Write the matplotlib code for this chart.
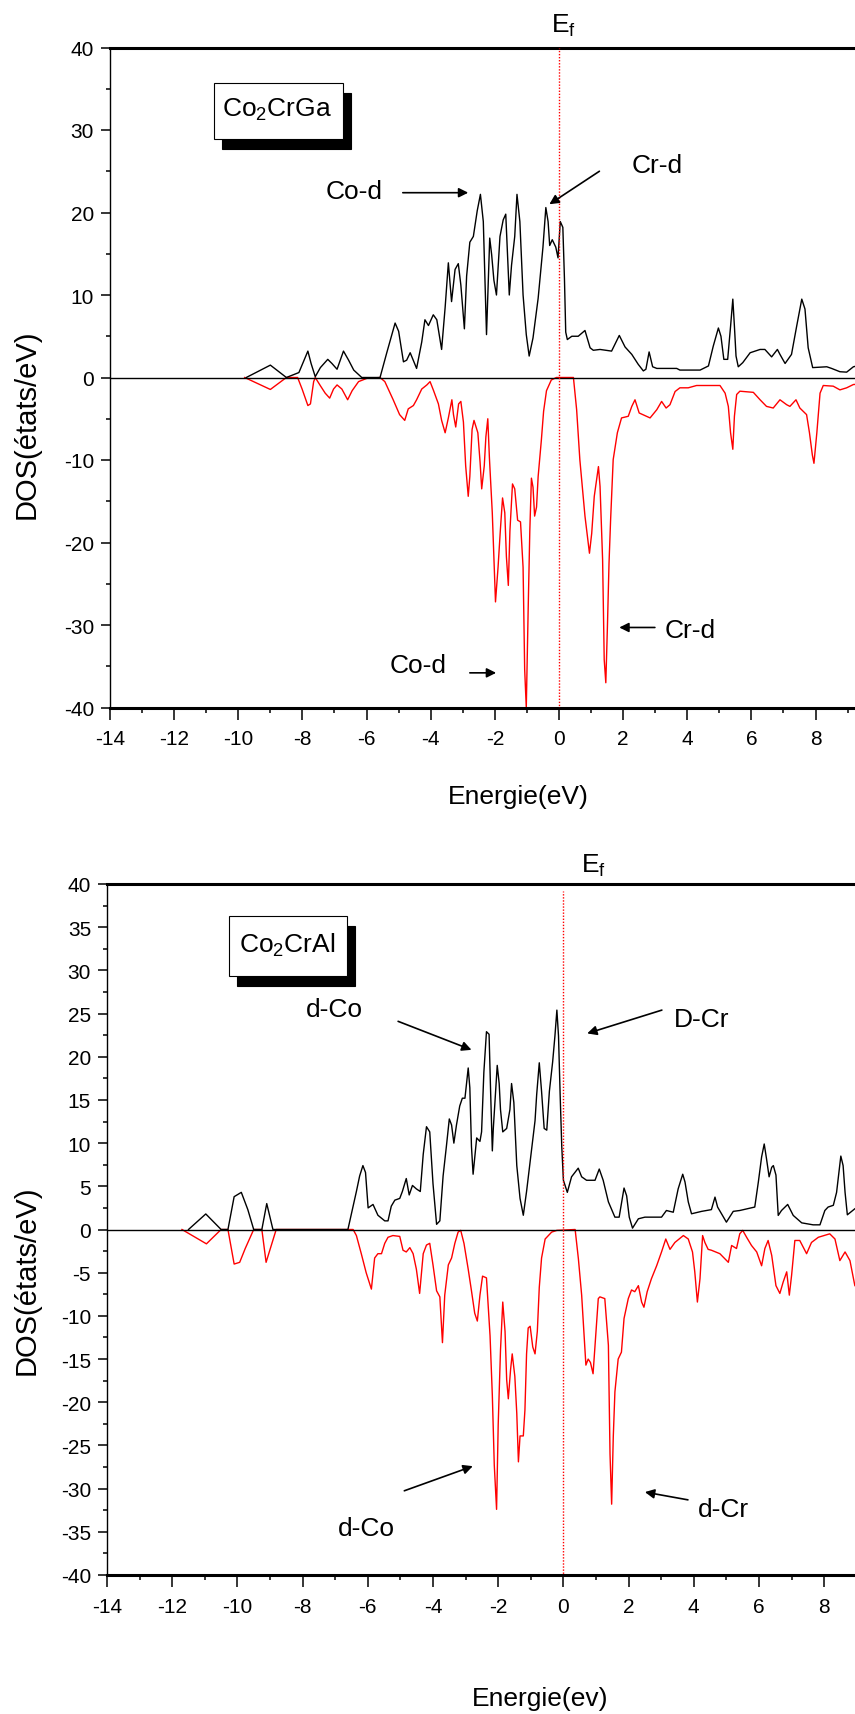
import matplotlib
matplotlib.use("Agg")
import matplotlib.pyplot as plt
import matplotlib.transforms as mtransforms
from matplotlib.patches import Rectangle
from matplotlib.ticker import MultipleLocator

plt.rcParams['font.family'] = ['Liberation Sans', 'DejaVu Sans']
plt.rcParams['mathtext.fontset'] = 'custom'
plt.rcParams['mathtext.rm'] = 'Liberation Sans'
plt.rcParams['mathtext.it'] = 'Liberation Sans:italic'
plt.rcParams['axes.unicode_minus'] = False

# ---- Co2CrGa, spin up (black) ----
ga_up_e = [-9.75, -9.0, -8.5, -8.11, -7.83, -7.73, -7.6, -7.44, -7.21, -7.08,
           -6.92, -6.72, -6.56, -6.4, -6.15, -5.58, -5.37, -5.11, -5.0, -4.85,
           -4.75, -4.64, -4.44, -4.28, -4.18, -4.07, -3.92, -3.81, -3.66, -3.55,
           -3.45, -3.35, -3.24, -3.14, -3.06, -2.95, -2.88, -2.78, -2.67, -2.55,
           -2.45, -2.36, -2.26, -2.16, -2.10, -2.03, -1.95, -1.84, -1.74, -1.66,
           -1.55, -1.48, -1.38, -1.31, -1.22, -1.12, -1.02, -0.93, -0.81, -0.65,
           -0.5, -0.41, -0.34, -0.29, -0.21, -0.10, -0.03, 0.04, 0.12, 0.17,
           0.21, 0.26, 0.4, 0.6, 0.81, 0.97, 1.07, 1.28, 1.64, 1.88,
           2.06, 2.27, 2.47, 2.63, 2.71, 2.81, 2.92, 3.05, 3.67, 3.77,
           4.4, 4.66, 4.81, 4.97, 5.05, 5.14, 5.26, 5.35, 5.42, 5.47,
           5.52, 5.59, 5.73, 5.96, 6.27, 6.42, 6.63, 6.81, 6.89, 7.05,
           7.25, 7.41, 7.57, 7.67, 7.77, 7.91, 8.35, 8.5, 8.76, 8.97,
           9.18, 9.4]
ga_up_dos = [0, 1.5, 0, 0.6, 3.2, 1.7, 0.1, 1.2, 2.2, 1.7,
             1.0, 3.2, 2.1, 0.9, 0, 0, 3.0, 6.6, 5.6, 1.9,
             2.1, 3.0, 1.1, 4.3, 7.0, 6.3, 7.6, 7.0, 3.4, 8.5,
             13.9, 9.2, 13.1, 13.8, 11.2, 5.9, 12.3, 16.4, 17.1, 20.2,
             22.2, 18.9, 5.2, 16.9, 14.9, 11.8, 10.0, 17.1, 19.1, 19.8,
             10.0, 13.6, 17.1, 22.2, 18.9, 10.0, 5.2, 2.6, 4.8, 9.6,
             15.8, 20.6, 18.9, 16.0, 16.7, 15.8, 14.5, 18.9, 18.2, 12.0,
             5.5, 4.6, 5.0, 5.0, 5.7, 3.6, 3.3, 3.4, 3.2, 5.1,
             3.7, 2.8, 1.6, 0.8, 1.0, 3.1, 1.3, 1.1, 1.1, 0.9,
             0.9, 1.4, 3.8, 6.0, 5.0, 2.2, 2.2, 6.2, 9.5, 6.2,
             2.6, 1.3, 1.8, 3.0, 3.4, 3.4, 2.5, 3.4, 2.8, 1.7,
             2.8, 6.2, 9.5, 8.3, 3.6, 1.2, 1.3, 1.1, 0.7, 0.65,
             1.3, 1.5]

# ---- Co2CrGa, spin down (red) ----
ga_dn_e = [-9.8, -9.0, -8.5, -8.15, -8.01, -7.83, -7.75, -7.65, -7.6, -7.44,
           -7.29, -7.15, -7.03, -6.92, -6.77, -6.59, -6.45, -6.25, -5.99, -5.58,
           -5.43, -5.17, -4.97, -4.81, -4.7, -4.54, -4.44, -4.28, -4.12, -4.02,
           -3.91, -3.76, -3.66, -3.55, -3.45, -3.34, -3.29, -3.22, -3.13, -3.06,
           -2.98, -2.91, -2.83, -2.78, -2.71, -2.65, -2.53, -2.46, -2.41, -2.33,
           -2.28, -2.22, -2.17, -2.08, -2.03, -1.98, -1.9, -1.83, -1.76, -1.69,
           -1.64, -1.58, -1.53, -1.45, -1.38, -1.29, -1.2, -1.12, -1.07, -1.02,
           -0.96, -0.91, -0.86, -0.81, -0.76, -0.7, -0.65, -0.55, -0.48, -0.39,
           -0.24, -0.08, 0.33, 0.45, 0.55, 0.65, 0.81, 0.95, 1.02, 1.1,
           1.23, 1.28, 1.36, 1.41, 1.46, 1.51, 1.56, 1.61, 1.69, 1.82,
           1.95, 2.16, 2.27, 2.37, 2.5, 2.84, 3.05, 3.2, 3.34, 3.46,
           3.62, 3.77, 4.03, 4.29, 5.02, 5.18, 5.28, 5.35, 5.42, 5.47,
           5.54, 5.64, 6.06, 6.27, 6.47, 6.68, 6.89, 7.1, 7.2, 7.39,
           7.51, 7.72, 7.81, 7.9, 7.95, 8.04, 8.14, 8.24, 8.55, 8.76,
           8.97, 9.18, 9.4]
ga_dn_dos = [0, -1.45, 0, 0, -1.4, -3.4, -3.2, -0.5, 0, -1.0,
             -1.9, -2.5, -1.4, -0.9, -1.4, -2.7, -1.6, -0.5, -0.1, 0,
             -0.5, -2.7, -4.5, -5.2, -3.8, -3.4, -2.7, -1.4, -0.9, -0.5,
             -1.6, -3.2, -5.2, -6.7, -4.9, -2.7, -4.5, -6.0, -3.2, -2.9,
             -5.4, -10.7, -14.4, -12.0, -6.3, -5.2, -6.7, -10.3, -13.5, -10.7,
             -7.2, -5.0, -9.7, -16.4, -21.7, -27.2, -23.0, -18.6, -14.6, -16.4,
             -21.7, -25.2, -18.6, -12.9, -13.5, -17.3, -17.5, -23.0, -35.4, -40,
             -27.9, -18.6, -12.2, -13.3, -16.8, -15.7, -12.0, -7.6, -4.1, -1.6,
             -0.3, 0, 0, 0, -3.9, -9.95, -16.8, -21.3, -18.9, -14.4,
             -10.8, -13.2, -22.1, -34.2, -37.0, -30.2, -22.5, -17.2, -9.95, -6.7,
             -4.9, -4.7, -3.5, -2.7, -4.3, -4.9, -3.9, -2.9, -3.7, -3.3,
             -1.7, -1.25, -1.25, -0.97, -0.97, -1.9, -3.5, -6.7, -8.7, -4.7,
             -2.06, -1.66, -1.8, -2.7, -3.5, -3.7, -2.7, -3.3, -3.5, -2.7,
             -3.7, -4.5, -6.7, -9.4, -10.4, -6.7, -1.9, -0.97, -1.05, -1.5,
             -1.25, -0.85, -0.8]

# ---- Co2CrAl, spin up (black) ----
al_up_e = [-11.5, -10.97, -10.5, -10.29, -10.1, -9.88, -9.68, -9.5, -9.25, -9.1,
           -8.91, -6.61, -6.45, -6.35, -6.25, -6.15, -6.07, -5.99, -5.84, -5.69,
           -5.48, -5.38, -5.28, -5.17, -5.02, -4.94, -4.82, -4.73, -4.63, -4.51,
           -4.39, -4.3, -4.2, -4.1, -4.0, -3.89, -3.79, -3.69, -3.59, -3.5,
           -3.43, -3.36, -3.28, -3.18, -3.1, -3.02, -2.92, -2.87, -2.82, -2.77,
           -2.66, -2.56, -2.51, -2.44, -2.36, -2.28, -2.23, -2.18, -2.15, -2.1,
           -2.03, -1.97, -1.93, -1.86, -1.74, -1.64, -1.59, -1.52, -1.43, -1.33,
           -1.23, -1.13, -1.02, -0.87, -0.82, -0.74, -0.67, -0.59, -0.51, -0.43,
           -0.33, -0.26, -0.2, -0.15, -0.1, -0.05, 0.0, 0.12, 0.25, 0.455,
           0.56, 0.71, 0.97, 1.1, 1.22, 1.38, 1.58, 1.71, 1.86, 1.94,
           2.02, 2.12, 2.3, 2.5, 3.01, 3.16, 3.37, 3.52, 3.66, 3.73,
           3.83, 3.93, 4.24, 4.54, 4.65, 4.73, 4.85, 5.0, 5.21, 5.41,
           5.87, 5.98, 6.08, 6.16, 6.23, 6.31, 6.39, 6.44, 6.52, 6.59,
           6.69, 6.88, 7.05, 7.31, 7.66, 7.87, 8.02, 8.12, 8.28, 8.38,
           8.51, 8.58, 8.64, 8.71, 8.94, 9.2]
al_up_dos = [0, 1.8, 0, 0, 3.8, 4.3, 2.3, 0, 0, 3.0,
             0, 0, 2.7, 4.4, 6.2, 7.4, 6.6, 2.5, 2.9, 1.65,
             1.0, 1.0, 2.7, 3.4, 3.6, 4.4, 5.9, 4.0, 5.1, 4.7,
             4.4, 8.7, 11.9, 11.3, 5.3, 0.6, 1.0, 6.2, 9.6, 12.8,
             12.1, 10.0, 12.1, 14.3, 15.2, 15.2, 18.7, 16.4, 9.6, 6.4,
             10.6, 10.2, 11.3, 18.2, 22.9, 22.6, 15.6, 9.1, 11.7, 14.7,
             19.0, 16.9, 13.9, 11.3, 11.7, 13.9, 16.9, 14.7, 7.4, 3.6,
             1.65, 4.4, 7.9, 12.6, 15.6, 19.3, 16.0, 11.7, 11.5, 16.0,
             19.4, 22.4, 25.4, 22.4, 15.6, 9.6, 5.7, 4.3, 6.1, 7.1,
             6.1, 5.7, 5.7, 7.0, 5.7, 3.2, 1.43, 1.43, 4.8, 3.9,
             1.43, 0.16, 1.24, 1.43, 1.43, 2.2, 2.0, 4.7, 6.4, 5.5,
             3.2, 1.82, 2.1, 2.3, 3.75, 2.6, 1.82, 0.85, 2.1, 2.2,
             2.6, 5.5, 8.4, 9.9, 8.2, 6.1, 7.2, 7.4, 6.3, 1.63,
             2.2, 2.9, 1.63, 0.77, 0.54, 0.54, 2.2, 2.6, 2.8, 4.3,
             8.5, 7.4, 4.3, 1.7, 2.4, 3.0]

# ---- Co2CrAl, spin down (red) ----
al_dn_e = [-11.7, -10.95, -10.5, -10.29, -10.1, -9.93, -9.76, -9.5, -9.25, -9.12,
           -8.81, -6.45, -6.35, -6.2, -6.05, -5.89, -5.79, -5.69, -5.58, -5.48,
           -5.38, -5.23, -5.02, -4.92, -4.82, -4.71, -4.61, -4.51, -4.41, -4.3,
           -4.2, -4.1, -4.0, -3.89, -3.79, -3.71, -3.64, -3.53, -3.43, -3.33,
           -3.23, -3.15, -3.05, -2.92, -2.82, -2.72, -2.64, -2.56, -2.48, -2.36,
           -2.25, -2.18, -2.12, -2.05, -2.0, -1.93, -1.86, -1.79, -1.74, -1.69,
           -1.62, -1.57, -1.49, -1.43, -1.38, -1.33, -1.23, -1.18, -1.13, -1.08,
           -1.02, -0.94, -0.87, -0.8, -0.74, -0.67, -0.56, -0.36, -0.2, 0.36,
           0.46, 0.56, 0.63, 0.69, 0.76, 0.83, 0.91, 1.0, 1.07, 1.12,
           1.27, 1.38, 1.43, 1.48, 1.53, 1.58, 1.68, 1.78, 1.86, 1.99,
           2.09, 2.19, 2.3, 2.4, 2.47, 2.57, 2.7, 2.86, 3.01, 3.14,
           3.27, 3.42, 3.68, 3.83, 3.96, 4.03, 4.11, 4.19, 4.27, 4.34,
           4.44, 4.54, 4.8, 5.06, 5.16, 5.31, 5.41, 5.5, 5.62, 5.77,
           5.93, 6.08, 6.18, 6.28, 6.39, 6.52, 6.64, 6.74, 6.85, 6.93,
           7.0, 7.1, 7.25, 7.46, 7.61, 7.82, 8.17, 8.33, 8.48, 8.64,
           8.79, 8.94, 9.1]
al_dn_dos = [0, -1.66, 0, 0, -4.0, -3.8, -2.2, 0, 0, -3.8,
             0, 0, -0.7, -2.8, -5.0, -6.9, -3.3, -2.8, -2.8, -1.6,
             -0.9, -0.7, -0.8, -2.4, -2.6, -2.1, -2.8, -4.6, -7.4, -2.8,
             -1.8, -1.6, -4.1, -7.1, -7.8, -13.1, -7.6, -4.1, -3.3, -1.6,
             -0.3, -0.1, -1.6, -4.6, -7.1, -9.7, -10.6, -7.6, -5.4, -5.6,
             -12.3, -19.2, -27.3, -32.4, -22.6, -14.0, -8.4, -11.8, -17.4, -19.6,
             -16.2, -14.4, -17.0, -21.3, -26.9, -23.9, -23.9, -20.9, -14.4, -11.4,
             -11.2, -13.6, -14.4, -11.8, -6.7, -3.3, -1.1, -0.3, -0.1, 0,
             -3.4, -7.6, -11.9, -15.7, -15.0, -15.4, -16.7, -11.9, -8.0, -7.8,
             -8.0, -13.4, -26.0, -31.8, -24.0, -18.8, -15.0, -14.2, -10.3, -8.0,
             -7.0, -7.2, -6.5, -8.4, -9.0, -7.2, -5.7, -4.2, -2.6, -1.1,
             -2.3, -1.5, -0.7, -1.1, -2.6, -4.9, -8.4, -5.7, -0.7, -1.5,
             -2.3, -2.4, -2.8, -3.8, -1.85, -2.2, -0.5, -0.1, -0.9, -1.85,
             -2.6, -4.2, -2.2, -1.27, -3.0, -6.5, -7.4, -6.1, -4.9, -7.6,
             -5.3, -1.27, -1.27, -2.8, -1.5, -0.9, -0.5, -1.1, -3.6, -2.6,
             -3.6, -6.5, -7.0]

x_major = list(range(-14, 10, 2))   # -14 ... 8, the visible labels
x_minor = list(range(-13, 10))

W, H = 855, 1715
fig = plt.figure(figsize=(W / 100, H / 100), dpi=100)


def px_rect(left, top, width, height):
    return [left / W, 1 - (top + height) / H, width / W, height / H]


def fermi_dashes(n_dots, gap, offset):
    seq = [1.0, 1.2] * n_dots + [1.0, gap]
    return (offset, tuple(seq))


def make_panel(rect, ymajor, yminor, up_e, up_dos, dn_e, dn_dos, ef_start, ef_style):
    ax = fig.add_axes(rect)
    ax.plot(dn_e, dn_dos, color='red', lw=1.0, zorder=2)
    ax.plot(up_e, up_dos, color='black', lw=1.0, zorder=2)
    ax.axhline(0, color='black', lw=1.0, zorder=3)
    ax.plot([0, 0], [ef_start, -40], color='red', lw=1.0,
            linestyle=ef_style, zorder=3)
    ax.set_xlim(-14, 10)
    ax.set_ylim(-40, 40)
    ax.set_xticks(x_major)
    ax.set_xticks(x_minor, minor=True)
    ax.yaxis.set_major_locator(MultipleLocator(ymajor))
    ax.yaxis.set_minor_locator(MultipleLocator(yminor))
    ax.spines['right'].set_visible(False)
    ax.spines['top'].set_linewidth(2.2)
    ax.spines['bottom'].set_linewidth(2.2)
    ax.spines['left'].set_linewidth(1.0)
    ax.tick_params(which='both', top=False, right=False, direction='out',
                   labelsize=15, width=1.1)
    ax.tick_params(axis='x', which='major', length=8.5, pad=7)
    ax.tick_params(axis='x', which='minor', length=3.6)
    ax.tick_params(axis='y', which='major', length=6.5, pad=5)
    ax.tick_params(axis='y', which='minor', length=3)
    return ax


def formula_box(ax, x0, y0, w, h, label, tx, ty):
    shadow = mtransforms.offset_copy(ax.transData, fig=fig, x=8, y=-10, units='dots')
    ax.add_patch(Rectangle((x0, y0), w, h, transform=shadow, facecolor='black',
                           edgecolor='black', lw=0.8, zorder=4))
    ax.add_patch(Rectangle((x0, y0), w, h, facecolor='white',
                           edgecolor='black', lw=0.8, zorder=5))
    ax.text(tx, ty, label, ha='center', va='baseline', fontsize=19, zorder=6)


def arrow(ax, tail, head):
    ax.annotate('', xy=head, xytext=tail,
                arrowprops=dict(arrowstyle='-|>', color='black', lw=1.2,
                                mutation_scale=14, shrinkA=0, shrinkB=0),
                zorder=6)


# top panel: Co2CrGa
ax1 = make_panel(px_rect(110, 48.5, 769.7, 660), 10, 5,
                 ga_up_e, ga_up_dos, ga_dn_e, ga_dn_dos,
                 40, fermi_dashes(28, 11.9, 29.1))
formula_box(ax1, -10.77, 28.86, 4.03, 6.8, 'Co$_2$CrGa', -8.8, 31.7)
ax1.text(-0.26, 41.9, 'E$_\\mathrm{f}$', ha='left', va='baseline', fontsize=19, clip_on=False)
ax1.text(-6.38, 21.8, 'Co-d', ha='center', va='baseline', fontsize=19, zorder=6)
arrow(ax1, (-4.87, 22.4), (-2.83, 22.4))
ax1.text(3.05, 24.9, 'Cr-d', ha='center', va='baseline', fontsize=19, zorder=6)
arrow(ax1, (1.26, 25.0), (-0.3, 21.0))
ax1.text(-4.39, -35.7, 'Co-d', ha='center', va='baseline', fontsize=19, zorder=6)
arrow(ax1, (-2.78, -35.8), (-1.96, -35.8))
ax1.text(4.1, -31.5, 'Cr-d', ha='center', va='baseline', fontsize=19, zorder=6)
arrow(ax1, (2.99, -30.3), (1.88, -30.3))

fig.text(518 / W, 1 - 804 / H, 'Energie(eV)', ha='center', va='baseline', fontsize=19)
fig.text(27 / W, 1 - 424 / H, 'DOS(états/eV)', rotation=90, ha='center', va='center', fontsize=21)

# bottom panel: Co2CrAl
ax2 = make_panel(px_rect(107, 885, 782.4, 691), 5, 2.5,
                 al_up_e, al_up_dos, al_dn_e, al_dn_dos,
                 39.2, fermi_dashes(29, 12.2, 61.9))
formula_box(ax2, -10.26, 29.4, 3.62, 6.9, 'Co$_2$CrAl', -8.47, 32.1)
ax2.text(0.54, 41.4, 'E$_\\mathrm{f}$', ha='left', va='baseline', fontsize=19, clip_on=False)
ax2.text(-7.01, 24.7, 'd-Co', ha='center', va='baseline', fontsize=19, zorder=6)
arrow(ax2, (-5.07, 24.1), (-2.82, 20.8))
ax2.text(4.25, 23.6, 'D-Cr', ha='center', va='baseline', fontsize=19, zorder=6)
arrow(ax2, (3.02, 25.4), (0.73, 22.7))
ax2.text(-6.04, -35.4, 'd-Co', ha='center', va='baseline', fontsize=19, zorder=6)
arrow(ax2, (-4.88, -30.25), (-2.78, -27.4))
ax2.text(4.92, -33.2, 'd-Cr', ha='center', va='baseline', fontsize=19, zorder=6)
arrow(ax2, (3.82, -31.3), (2.5, -30.4))

fig.text(540 / W, 1 - 1706 / H, 'Energie(ev)', ha='center', va='baseline', fontsize=19)
fig.text(27 / W, 1 - 1280 / H, 'DOS(états/eV)', rotation=90, ha='center', va='center', fontsize=21)

fig.savefig('out.png', dpi=100)
